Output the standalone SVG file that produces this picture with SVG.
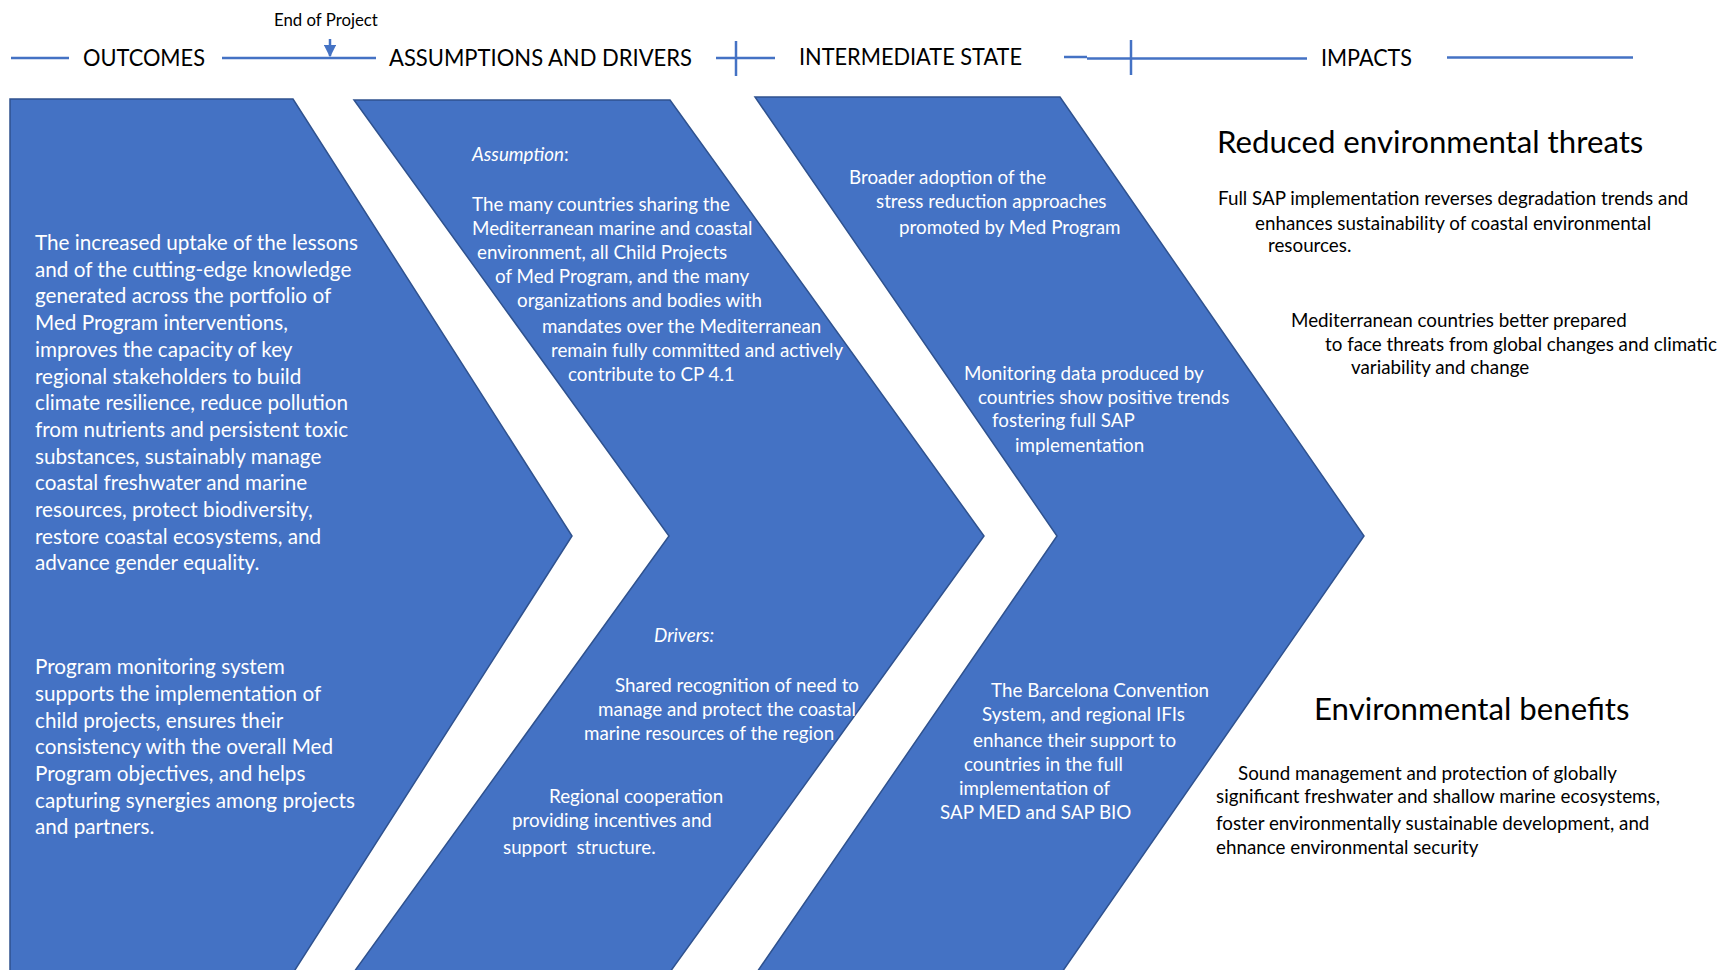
<svg xmlns="http://www.w3.org/2000/svg" width="1727" height="970" viewBox="0 0 1727 970">
<style>
  .bg { fill: #ffffff; }
  .shape { fill: #4472C4; stroke: #2F528F; stroke-width: 1.5; }
  .ln { stroke: #4472C4; stroke-width: 2.5; fill: none; }
  text { font-family: Lato, "Liberation Sans", sans-serif; }
  .hdr { font-size: 23.5px; fill: #000000; }
  .small { font-size: 16.8px; fill: #000000; }
  .w1 { font-size: 20.7px; fill: #ffffff; }
  .w { font-size: 18.8px; fill: #ffffff; }
  .it { font-style: italic; }
  .k { font-size: 18.8px; fill: #000000; }
  .h2 { font-size: 31.2px; fill: #000000; }
</style>
<defs>
  <marker id="arrowhead" viewBox="0 0 10 10" refX="9" refY="5" markerWidth="5" markerHeight="5" orient="auto" markerUnits="strokeWidth">
    <path d="M0,0 L10,5 L0,10 z" fill="#4472C4"/>
  </marker>
</defs>
<rect class="bg" x="0" y="0" width="1727" height="970"/>

<g id="timeline">
  <line class="ln" x1="11" y1="58" x2="69" y2="58"/>
  <line class="ln" x1="222" y1="58" x2="376" y2="58"/>
  <line class="ln" x1="716" y1="58" x2="775" y2="58"/>
  <line class="ln" x1="736" y1="41" x2="736" y2="76"/>
  <line class="ln" x1="1064" y1="57" x2="1087" y2="57"/>
  <line class="ln" x1="1087" y1="58.5" x2="1307" y2="58.5"/>
  <line class="ln" x1="1131" y1="40" x2="1131" y2="75"/>
  <line class="ln" x1="1447" y1="57.5" x2="1633" y2="57.5"/>
  <text class="hdr" x="83" y="66" textLength="122" lengthAdjust="spacingAndGlyphs">OUTCOMES</text>
  <text class="hdr" x="389" y="66" textLength="303" lengthAdjust="spacingAndGlyphs">ASSUMPTIONS AND DRIVERS</text>
  <text class="hdr" x="799" y="65" textLength="223" lengthAdjust="spacingAndGlyphs">INTERMEDIATE STATE</text>
  <text class="hdr" x="1321" y="66" textLength="91" lengthAdjust="spacingAndGlyphs">IMPACTS</text>
  <text class="small" x="274" y="25.5">End of Project</text>
</g>

<g id="connectors">
  <line class="ln" x1="330" y1="39" x2="330" y2="56" marker-end="url(#arrowhead)"/>
</g>

<g id="outcomes">
  <polygon class="shape" points="10,99 293,99 572,536 293,973 10,973"/>
  <text class="w1" x="35" y="250">The increased uptake of the lessons</text>
  <text class="w1" x="35" y="276.7">and of the cutting-edge knowledge</text>
  <text class="w1" x="35" y="303.4">generated across the portfolio of</text>
  <text class="w1" x="35" y="330.1">Med Program interventions,</text>
  <text class="w1" x="35" y="356.8">improves the capacity of key</text>
  <text class="w1" x="35" y="383.5">regional stakeholders to build</text>
  <text class="w1" x="35" y="410.2">climate resilience, reduce pollution</text>
  <text class="w1" x="35" y="436.9">from nutrients and persistent toxic</text>
  <text class="w1" x="35" y="463.6">substances, sustainably manage</text>
  <text class="w1" x="35" y="490.3">coastal freshwater and marine</text>
  <text class="w1" x="35" y="517">resources, protect biodiversity,</text>
  <text class="w1" x="35" y="543.7">restore coastal ecosystems, and</text>
  <text class="w1" x="35" y="570.4">advance gender equality.</text>
  <text class="w1" x="35" y="674">Program monitoring system</text>
  <text class="w1" x="35" y="701">supports the implementation of</text>
  <text class="w1" x="35" y="727.5">child projects, ensures their</text>
  <text class="w1" x="35" y="754">consistency with the overall Med</text>
  <text class="w1" x="35" y="781">Program objectives, and helps</text>
  <text class="w1" x="35" y="807.5">capturing synergies among projects</text>
  <text class="w1" x="35" y="834">and partners.</text>
</g>

<g id="assumptions-drivers">
  <polygon class="shape" points="354,100 670,100 984,536 670,972 354,972 669,536"/>
  <text class="w" x="472" y="161"><tspan class="it">Assumption</tspan>:</text>
  <text class="w" x="472" y="211">The many countries sharing the</text>
  <text class="w" x="472" y="235">Mediterranean marine and coastal</text>
  <text class="w" x="477" y="259">environment, all Child Projects</text>
  <text class="w" x="495" y="283">of Med Program, and the many</text>
  <text class="w" x="517" y="307">organizations and bodies with</text>
  <text class="w" x="542" y="333">mandates over the Mediterranean</text>
  <text class="w" x="551" y="357">remain fully committed and actively</text>
  <text class="w" x="568" y="381">contribute to CP 4.1</text>
  <text class="w it" x="654" y="642">Drivers:</text>
  <text class="w" x="615" y="692">Shared recognition of need to</text>
  <text class="w" x="598" y="716">manage and protect the coastal</text>
  <text class="w" x="584" y="740">marine resources of the region</text>
  <text class="w" x="549" y="803">Regional cooperation</text>
  <text class="w" x="512" y="827">providing incentives and</text>
  <text class="w" x="503" y="854" xml:space="preserve">support  structure.</text>
</g>

<g id="intermediate-state">
  <polygon class="shape" points="755,97 1060,97 1364,536 1060,975 755,975 1057,536"/>
  <text class="w" x="849" y="184">Broader adoption of the</text>
  <text class="w" x="876" y="208">stress reduction approaches</text>
  <text class="w" x="899" y="234">promoted by Med Program</text>
  <text class="w" x="964" y="380">Monitoring data produced by</text>
  <text class="w" x="978" y="404">countries show positive trends</text>
  <text class="w" x="992" y="427">fostering full SAP</text>
  <text class="w" x="1015" y="452">implementation</text>
  <text class="w" x="991" y="697">The Barcelona Convention</text>
  <text class="w" x="982" y="721">System, and regional IFIs</text>
  <text class="w" x="973" y="747">enhance their support to</text>
  <text class="w" x="964" y="771">countries in the full</text>
  <text class="w" x="959" y="795">implementation of</text>
  <text class="w" x="940" y="819">SAP MED and SAP BIO</text>
</g>

<g id="impacts">
  <text class="h2" x="1217" y="153">Reduced environmental threats</text>
  <text class="k" x="1218" y="205">Full SAP implementation reverses degradation trends and</text>
  <text class="k" x="1255" y="230">enhances sustainability of coastal environmental</text>
  <text class="k" x="1268" y="252">resources.</text>
  <text class="k" x="1291" y="327">Mediterranean countries better prepared</text>
  <text class="k" x="1325" y="351">to face threats from global changes and climatic</text>
  <text class="k" x="1351" y="374">variability and change</text>
  <text class="h2" x="1314" y="720">Environmental benefits</text>
  <text class="k" x="1238" y="780">Sound management and protection of globally</text>
  <text class="k" x="1216" y="803">significant freshwater and shallow marine ecosystems,</text>
  <text class="k" x="1216" y="830">foster environmentally sustainable development, and</text>
  <text class="k" x="1216" y="854">ehnance environmental security</text>
</g>
</svg>
